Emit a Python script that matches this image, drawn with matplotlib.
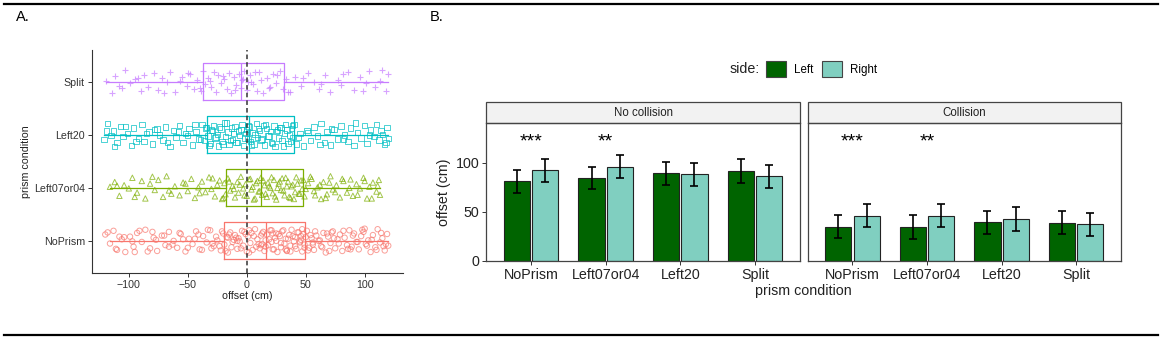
import numpy as np
import matplotlib
matplotlib.use("Agg")
from matplotlib import pyplot as plt
from matplotlib.patches import Rectangle, Patch
from matplotlib.lines import Line2D

plt.rcParams['font.family'] = ['Liberation Sans', 'DejaVu Sans']

# ---------- Daten Panel A ----------
conditions = ["NoPrism", "Left07or04", "Left20", "Split"]
cond_colors = ["#F8766D", "#7CAE00", "#00BFC4", "#C77CFF"]
cond_markers = ["o", "^", "s", "+"]

# Boxplot-Kennwerte: q1, Median, q3, Whisker unten/oben
box_q1 = [-19, -18, -34, -37]
box_med = [16, 12, 2, -5]
box_q3 = [49, 47.5, 40, 32]
box_lo = [-116, -116, -121, -119]
box_hi = [120, 113, 120, 120]

noprism_x = [
    -120, -116, -113, -110, -106, -103, -99, -96, -93, -89, -86, -82, -79, -76, -72, -69, -66, -62, -59, -56,
    -52, -49, -46, -43, -40, -37, -34, -31, -28, -25, -22, -20, -19, -17, -16, -14, -13, -11, -10, -8,
    -7, -6, -4, -3, -1, 0, 1, 3, 4, 5, 7, 8, 9, 11, 12, 13, 14, 15, 16, 17,
    18, 20, 21, 22, 24, 25, 26, 28, 29, 30, 32, 33, 34, 36, 37, 38, 40, 41, 42, 44,
    45, 46, 47, 48, 49, 51, 53, 55, 57, 59, 61, 63, 65, 67, 69, 71, 73, 75, 77, 79,
    81, 83, 85, 87, 89, 91, 93, 95, 97, 99, 101, 103, 105, 107, 109, 111, 113, 115, 117, 119,
    120,
    -118, -111, -104, -97, -91, -84, -77, -70, -63, -57, -50, -44, -38, -33, -29, -26, -23, -21, -18, -15,
    -12, -9, -5, -2, 2, 6, 10, 13, 16, 19, 21, 23, 25, 27, 29, 31, 33, 35, 37, 39,
    41, 43, 45, 47, 49, 50, 52, 54, 56, 58, 62, 64, 68, 70, 74, 78, 82, 86, 90, 94,
    98, 102, 106, 110, 114, 118, -108, -95, -80, -66, -54, -41, -30, -16, -8, 2, 12, 22, 34, 46,
    56, 72, 88, 100, 116]
left07_x = [
    -116, -112, -108, -104, -100, -97, -93, -89, -86, -82, -78, -75, -71, -68, -64, -61, -57, -54, -50, -47,
    -44, -41, -38, -35, -32, -30, -27, -25, -23, -21, -19, -18, -16, -14, -12, -10, -8, -7, -5, -3,
    -1, 0, 2, 4, 5, 7, 9, 10, 12, 13, 15, 17, 18, 20, 22, 23, 25, 27, 29, 30,
    32, 34, 35, 37, 39, 41, 42, 44, 46, 47, 49, 52, 55, 57, 60, 63, 65, 68, 71, 73,
    76, 79, 82, 85, 88, 90, 93, 96, 99, 102, 104, 107, 110, 112, 113,
    -110, -95, -80, -66, -52, -40, -29, -20, -15, -11, -6, -2, 3, 6, 8, 11, 14, 16, 19, 21,
    24, 26, 28, 31, 33, 36, 38, 40, 43, 45, 48, 50, 54, 58, 62, 67, 70, 75, 81, 87,
    94, 100, 106, 111]
left20_x = [
    -121, -118, -115, -113, -110, -107, -105, -101, -98, -96, -92, -89, -87, -83, -80, -78, -74, -71, -69, -65,
    -62, -60, -57, -54, -52, -49, -46, -43, -41, -38, -36, -34, -33, -31, -30, -28, -27, -25, -24, -22,
    -21, -19, -18, -16, -15, -13, -12, -10, -9, -7, -6, -4, -3, -1, 0, 1, 2, 3, 5, 6,
    8, 9, 11, 12, 14, 15, 17, 18, 20, 21, 23, 24, 26, 27, 29, 30, 32, 33, 35, 36,
    38, 39, 40, 42, 45, 48, 51, 54, 57, 60, 63, 66, 68, 71, 74, 77, 80, 83, 86, 88,
    91, 94, 97, 100, 102, 105, 108, 110, 112, 115, 117, 119, 120,
    -119, -112, -103, -94, -85, -76, -67, -58, -50, -44, -39, -35, -32, -29, -26, -23, -20, -17, -14, -11,
    -8, -5, -2, 1, 4, 7, 10, 13, 16, 19, 22, 25, 28, 31, 34, 37, 39, 44, 52, 62,
    72, 82, 92, 104, 114, 118]
split_x = [
    -119, -114, -112, -106, -103, -99, -95, -90, -87, -84, -79, -75, -72, -68, -65, -61, -57, -55, -51, -48,
    -45, -42, -39, -37, -35, -33, -30, -28, -26, -24, -22, -19, -17, -15, -13, -11, -9, -7, -5, -4,
    -2, 0, 1, 3, 5, 7, 9, 12, 14, 17, 19, 22, 25, 28, 31, 33, 37, 41, 46, 52,
    57, 61, 66, 71, 77, 80, 86, 91, 96, 101, 104, 109, 113, 118, 120,
    -108, -92, -70, -50, -40, -31, -20, -10, -3, 4, 10, 20, 26, 35, 48, 63, 82, 99, 115]
points_x = [noprism_x, left07_x, left20_x, split_x]

# vertikaler Jitter (abgeschätzt)
jitter = [
    0.12, -0.05, 0.19, -0.17, 0.03, -0.21, 0.08, -0.11, 0.15, -0.02, 0.21, -0.14, 0.06, -0.19, 0.10, -0.08, 0.17, 0.00, -0.13, 0.13,
    -0.20, 0.04, -0.06, 0.18, -0.16, 0.09, -0.03, 0.20, -0.10, 0.01, -0.18, 0.14, -0.07, 0.07, -0.22, 0.16, -0.12, 0.02, 0.11, -0.15,
    0.05, -0.01, 0.19, -0.09, 0.13, -0.20, 0.08, -0.04, 0.15, -0.17, 0.22, -0.11, 0.03, -0.14, 0.10, -0.06, 0.17, -0.19, 0.01, 0.12,
    -0.08, 0.20, -0.02, -0.16, 0.06, 0.14, -0.21, 0.09, -0.12, 0.18, -0.05, 0.04, -0.18, 0.11, -0.09, 0.21, -0.01, 0.07, -0.15, 0.16,
    -0.03, 0.02, -0.20, 0.13, -0.07, 0.19, -0.13, 0.05, -0.17, 0.10, 0.00, -0.10, 0.15, -0.22, 0.08, -0.04, 0.18, -0.14, 0.03, 0.12,
    -0.19, 0.06, -0.08, 0.20, -0.11, 0.14, -0.02, -0.16, 0.09, 0.17, -0.06, 0.01, -0.21, 0.11, -0.12, 0.22, -0.03, 0.05, -0.18, 0.13,
    -0.09, 0.16, -0.15, 0.07, -0.01, 0.19, -0.20, 0.02, 0.10, -0.07, 0.15, -0.13, 0.04, -0.17, 0.21, -0.05, 0.08, -0.10, 0.18, -0.19,
    0.12, -0.02, 0.06, -0.14, 0.17, -0.22, 0.09, -0.06, 0.14, -0.11, 0.03, 0.20, -0.16, 0.00]

# ---------- Daten Panel B ----------
facets = ["No collision", "Collision"]
left_mean = [[81, 84.5, 89, 91.6], [35, 35, 39.3, 39]]
right_mean = [[92.5, 96, 88, 86.2], [46, 46, 42.7, 37.6]]
left_err = [[11.5, 11.5, 11.7, 11.9], [11.7, 12.2, 11.5, 11.7]]
right_err = [[11.7, 12, 11.7, 11.7], [11.5, 11.7, 11.7, 11.7]]
stars = ["***", "**", "", ""]
side_colors = ["#006400", "#80CFC0"]

W, H = 1163, 337
fig = plt.figure(figsize=(W / 100, H / 100), dpi=100)


def fx(px):
    return px / W


def fy(py):
    return 1 - py / H


# horizontale Trennlinien oben und unten
fig.add_artist(Line2D([fx(4), fx(1158)], [fy(4), fy(4)], color="black", lw=1.6))
fig.add_artist(Line2D([fx(4), fx(1158)], [fy(335), fy(335)], color="black", lw=1.6))
fig.text(fx(16), fy(17), "A.", fontsize=10.5, va="center")
fig.text(fx(430), fy(17), "B.", fontsize=10.5, va="center")

# ---------- Panel A ----------
axA = fig.add_axes([fx(91.7), fy(272.7), fx(403 - 91.7), fy(50) - fy(272.7)])
nj = len(jitter)
for i, cond in enumerate(conditions):
    xs = points_x[i]
    ys = [i + 1 + jitter[(i * 37 + t) % nj] + (0.01 if t >= nj else 0) for t in range(len(xs))]
    if cond_markers[i] == "+":
        axA.scatter(xs, ys, marker="+", s=22, color=cond_colors[i], alpha=0.7, linewidths=0.8, zorder=2)
    else:
        axA.scatter(xs, ys, marker=cond_markers[i], s=15, facecolors="none", edgecolors=cond_colors[i],
                    alpha=0.7, linewidths=0.7, zorder=2)
    stats = [dict(med=box_med[i], q1=box_q1[i], q3=box_q3[i], whislo=box_lo[i], whishi=box_hi[i], fliers=[])]
    props = dict(color=cond_colors[i], lw=0.9)
    axA.bxp(stats, positions=[i + 1], widths=0.7, orientation="horizontal", showcaps=False,
            boxprops=props, whiskerprops=props, medianprops=props, manage_ticks=False, zorder=3)

axA.axvline(0, color="#333333", ls=(0, (3, 2)), lw=1.1, zorder=4)
axA.set_xlim(-131.5, 132.5)
axA.set_ylim(0.4, 4.6)
axA.set_yticks([1, 2, 3, 4])
axA.set_yticklabels(conditions)
axA.set_xticks([-100, -50, 0, 50, 100])
axA.tick_params(labelsize=7.7, length=3, width=0.7, color="#333333", labelcolor="#333333", pad=2)
for s in ["top", "right"]:
    axA.spines[s].set_visible(False)
for s in ["left", "bottom"]:
    axA.spines[s].set_color("#333333")
    axA.spines[s].set_linewidth(0.8)
axA.set_xlabel("offset (cm)", fontsize=7.7, labelpad=1, color="#222222")
axA.set_ylabel("prism condition", fontsize=7.7, labelpad=2, color="#222222")

# ---------- Panel B ----------
panel_x = [(486.3, 799.7), (807.7, 1121)]
xpos = np.arange(1, 5)
for k, facet in enumerate(facets):
    x0, x1 = panel_x[k]
    ax = fig.add_axes([fx(x0), fy(261), fx(x1 - x0), fy(123.3) - fy(261)])
    ax.bar(xpos - 0.19, left_mean[k], width=0.35, color=side_colors[0], edgecolor="#222222", lw=0.8,
           yerr=left_err[k], error_kw=dict(ecolor="black", elinewidth=1.2, capsize=3, capthick=1.2), zorder=2)
    ax.bar(xpos + 0.19, right_mean[k], width=0.35, color=side_colors[1], edgecolor="#222222", lw=0.8,
           yerr=right_err[k], error_kw=dict(ecolor="black", elinewidth=1.2, capsize=3, capthick=1.2), zorder=2)
    for xi, st in zip(xpos, stars):
        if st:
            ax.text(xi, 121, st, ha="center", va="center", fontsize=14)
    ax.set_xlim(0.4, 4.6)
    ax.set_ylim(0, 140)
    ax.set_xticks(xpos)
    ax.set_xticklabels(conditions)
    ax.set_yticks([0, 50, 100])
    ax.tick_params(labelsize=10.3, length=3, width=0.7, color="#333333", labelcolor="#222222", pad=2)
    if k == 0:
        ax.set_ylabel("offset (cm)", fontsize=10.3, labelpad=3, color="#222222")
    else:
        ax.tick_params(axis="y", left=False, labelleft=False)
    for s in ax.spines.values():
        s.set_color("#444444")
        s.set_linewidth(0.9)
    # Facetten-Streifen
    strip_h = (123.3 - 101.7) / (261 - 123.3)
    ax.add_patch(Rectangle((0, 1), 1, strip_h, transform=ax.transAxes, facecolor="#F2F2F2",
                           edgecolor="#444444", lw=0.9, clip_on=False))
    ax.text(0.5, 1 + strip_h / 2, facet, transform=ax.transAxes, ha="center", va="center",
            fontsize=8.3, color="#222222")

fig.text(fx(803.5), fy(291), "prism condition", ha="center", va="center", fontsize=10.3, color="#222222")

# Legende
fig.text(fx(730), fy(69), "side:", ha="left", va="center", fontsize=10.3, color="#222222")
handles = [Patch(facecolor=side_colors[0], edgecolor="#444444", lw=0.8, label="Left"),
           Patch(facecolor=side_colors[1], edgecolor="#444444", lw=0.8, label="Right")]
fig.legend(handles=handles, loc="center left", bbox_to_anchor=(fx(766), fy(69)), ncol=2, frameon=False,
           fontsize=8.3, handlelength=1.75, handleheight=1.75, handletextpad=0.7, columnspacing=0.7,
           borderpad=0, borderaxespad=0)

fig.savefig("out.png", dpi=100)
